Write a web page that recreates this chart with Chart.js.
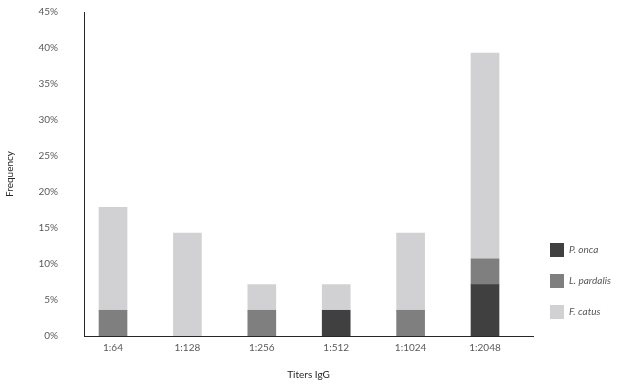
<!DOCTYPE html>
<html><head><meta charset="utf-8">
<script src="https://cdn.jsdelivr.net/npm/chart.js@4"></script>
<style>html,body{margin:0;padding:0;background:#fff}#wrap{width:618px;height:385px}</style>
</head><body><div id="wrap"><canvas id="c" width="618" height="385"></canvas></div>
<script>
const categories = ['1:64', '1:128', '1:256', '1:512', '1:1024', '1:2048'];
const pOnca     = [0, 0, 0, 3.57, 0, 7.14];
const lPardalis = [3.57, 0, 3.57, 0, 3.57, 3.57];
const fCatus    = [14.29, 14.29, 3.57, 3.57, 10.71, 28.57];
const yTicks    = [0, 5, 10, 15, 20, 25, 30, 35, 40, 45];
const seriesNames = ['P. onca', 'L. pardalis', 'F. catus'];

const FONT = 'Lato, "Open Sans", sans-serif';
const TXT = '#595959';
const toPts = arr => arr.map((v, i) => ({x: i, y: v === 0 ? null : v}));

new Chart(document.getElementById('c'), {
  type: 'bar',
  data: {
    datasets: [
      {label: seriesNames[0], data: toPts(pOnca), backgroundColor: '#404040', borderWidth: 0},
      {label: seriesNames[1], data: toPts(lPardalis), backgroundColor: '#7f7f7f', borderWidth: 0},
      {label: seriesNames[2], data: toPts(fCatus), backgroundColor: '#d1d1d3', borderWidth: 0}
    ]
  },
  options: {
    responsive: false,
    animation: false,
    devicePixelRatio: 1,
    barThickness: 28,
    layout: {padding: {top: 12, left: 0, right: 0, bottom: 0}},
    plugins: {
      tooltip: {enabled: false},
      legend: {
        position: 'right',
        align: 'end',
        fullSize: false,
        maxWidth: 85,
        labels: {
          boxWidth: 14, boxHeight: 14, padding: 17,
          color: TXT,
          font: {family: FONT, size: 10, style: 'italic'}
        }
      }
    },
    scales: {
      x: {
        type: 'linear',
        stacked: true,
        offset: false,
        min: -0.39, max: 5.645,
        grid: {display: false, drawTicks: false},
        border: {display: true, color: '#262626', width: 1},
        afterBuildTicks: s => { s.ticks = categories.map((_, i) => ({value: i})); },
        afterFit: s => { s.height = 49; },
        ticks: {
          padding: 6, color: TXT, maxRotation: 0, autoSkip: false,
          font: {family: FONT, size: 10},
          callback: v => categories[v]
        },
        title: {display: true, text: 'Titers IgG', color: '#262626',
          font: {family: FONT, size: 10}, padding: {top: 0, bottom: 4}}
      },
      y: {
        stacked: true,
        min: 0, max: 45,
        grid: {display: false, drawTicks: false},
        border: {display: true, color: '#262626', width: 1},
        afterBuildTicks: s => { s.ticks = yTicks.map(v => ({value: v})); },
        afterFit: s => { s.width = 84; s.paddingTop = 0; s.paddingBottom = 0; },
        ticks: {
          padding: 26, color: TXT,
          font: {family: FONT, size: 10},
          callback: v => v + '%'
        },
        title: {display: true, text: 'Frequency', color: '#262626',
          font: {family: FONT, size: 10}, padding: {top: 4, bottom: 0}}
      }
    }
  }
});
</script></body></html>
